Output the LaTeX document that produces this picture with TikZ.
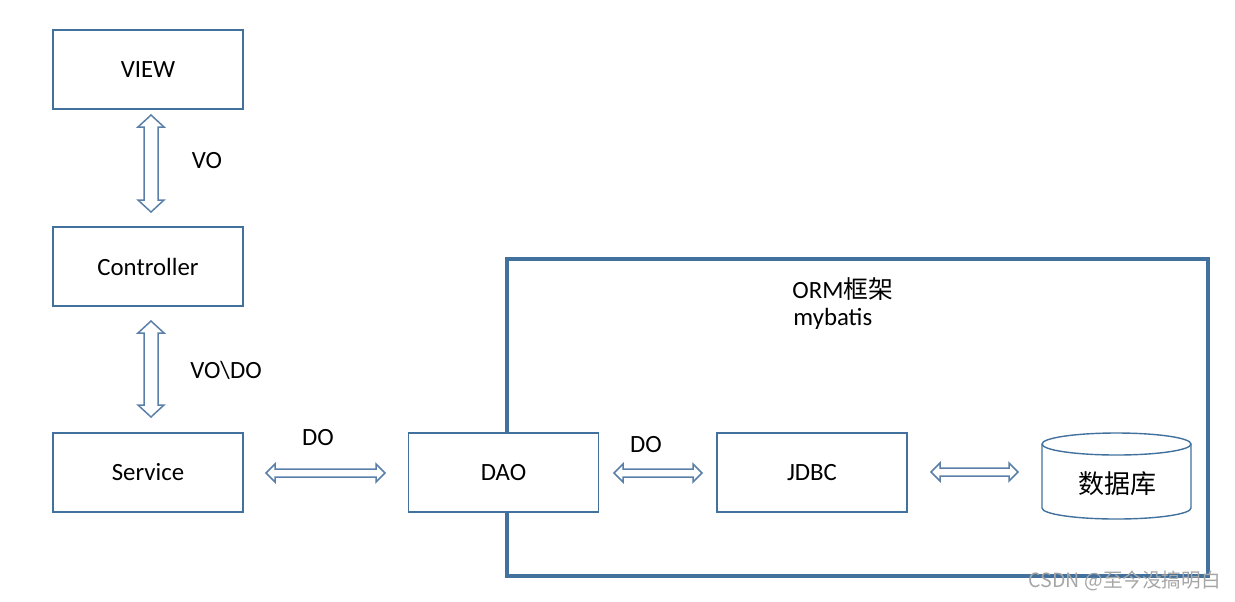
\documentclass[tikz,border=0pt]{standalone}
\usepackage{fontspec}
\setmainfont{Carlito}
\newfontfamily\cjk{Noto Sans CJK SC}
\usetikzlibrary{calc}
\definecolor{boxblue}{HTML}{41719C}
\definecolor{arrblue}{HTML}{5A80AA}
\tikzset{
  box/.style={draw=boxblue, fill=white, line width=0.55pt, minimum width=95pt, minimum height=39.5pt, inner sep=0pt, font=\fontsize{12.4}{14}\selectfont},
  lbl/.style={inner sep=0pt, font=\fontsize{12.4}{14}\selectfont},
  dblarrow/.style={draw=arrblue, line width=0.75pt, fill=white, line join=miter},
  frame/.style={draw=boxblue, line width=2pt},
}
% horizontal double block arrow: #1 left end, #2 right end, #3 head length, #4 half head, #5 half shaft
\newcommand\hdarrow[5]{%
\draw[dblarrow] let \p1=(#1), \p2=(#2) in (\x1,\y1) -- (\x1+#3,\y1+#4) -- (\x1+#3,\y1+#5) -- (\x2-#3,\y1+#5) -- (\x2-#3,\y1+#4) -- (\x2,\y1) -- (\x2-#3,\y1-#4) -- (\x2-#3,\y1-#5) -- (\x1+#3,\y1-#5) -- (\x1+#3,\y1-#4) -- cycle;}
% vertical double block arrow: #1 top end, #2 bottom end
\newcommand\vdarrow[5]{%
\draw[dblarrow] let \p1=(#1), \p2=(#2) in (\x1,\y1) -- (\x1+#4,\y1-#3) -- (\x1+#5,\y1-#3) -- (\x1+#5,\y2+#3) -- (\x1+#4,\y2+#3) -- (\x1,\y2) -- (\x1-#4,\y2+#3) -- (\x1-#5,\y2+#3) -- (\x1-#5,\y1-#3) -- (\x1-#4,\y1-#3) -- cycle;}
\begin{document}
\begin{tikzpicture}[x=0.5pt,y=-0.5pt]
\useasboundingbox (0,0) rectangle (1235,601);
% ORM frame
\draw[frame] (507,259) rectangle (1208,576);
% boxes
\node[box] (view) at (148,69.5) {VIEW};
\node[box] (ctrl) at (148,266.5) {Controller};
\node[box] (svc) at (148,472.5) {Service};
\node[box] (dao) at (503.5,472.5) {DAO};
\node[box] (jdbc) at (812,472.5) {JDBC};
% database cylinder
\draw[draw=boxblue, line width=0.7pt, fill=white] (1042,444) -- (1042,508) arc[start angle=180, end angle=0, x radius=74.5, y radius=11] -- (1191,444) arc[start angle=0, end angle=-180, x radius=74.5, y radius=11] -- cycle;
\draw[draw=boxblue, line width=0.7pt] (1042,444) arc[start angle=180, end angle=0, x radius=74.5, y radius=11];
\node[inner sep=0pt, font=\cjk\fontsize{13}{15}\selectfont] (db) at (1117,484) {数据库};
% arrow end points
\coordinate (a1t) at (151,115);
\coordinate (a1b) at (151,212);
\coordinate (a2t) at (151,321);
\coordinate (a2b) at (151,417);
\coordinate (a3l) at (266,473);
\coordinate (a3r) at (385,473);
\coordinate (a4l) at (614,473);
\coordinate (a4r) at (702,473);
\coordinate (a5l) at (931,472);
\coordinate (a5r) at (1018,472);
\vdarrow{a1t}{a1b}{6pt}{6.5pt}{3.5pt}
\vdarrow{a2t}{a2b}{6pt}{6.5pt}{3.5pt}
\hdarrow{a3l}{a3r}{4.5pt}{4.5pt}{2pt}
\hdarrow{a4l}{a4r}{4.5pt}{4.5pt}{2pt}
\hdarrow{a5l}{a5r}{4.5pt}{4.5pt}{2pt}
% labels
\node[lbl] (vo) at (207,161) {VO};
\node[lbl] (vodo) at (226,370) {VO\textbackslash DO};
\node[lbl] (do1) at (318,438) {DO};
\node[lbl] (do2) at (646,445) {DO};
\node[lbl, anchor=west] (orm) at (792,289) {ORM{\cjk 框架}};
\node[lbl, anchor=west] (myb) at (793,319) {mybatis};
% watermark
\node[inner sep=0pt, anchor=east, text=gray!70, font=\cjk\fontsize{9.8}{11}\selectfont] (wm) at (1221,581) {CSDN @至今没搞明白};
\end{tikzpicture}
\end{document}
